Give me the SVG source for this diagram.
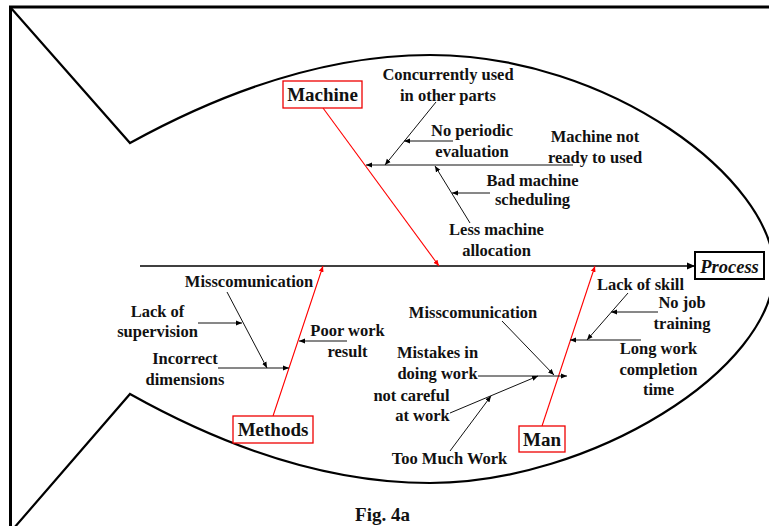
<svg xmlns="http://www.w3.org/2000/svg" width="769" height="526" viewBox="0 0 769 526">
<style>
text{font-family:"Liberation Serif","Times New Roman",serif;font-weight:bold;fill:#111;}
.lbl{font-size:16.5px;text-anchor:middle;}
.cat{font-size:19px;text-anchor:middle;}
.box{fill:#fff;stroke:#e00;stroke-width:1.3;}
.red{stroke:#f00;stroke-width:1.1;fill:none;}
.blk{stroke:#111;stroke-width:1;fill:none;}
</style>
<defs>
<marker id="ah" markerUnits="userSpaceOnUse" markerWidth="7" markerHeight="6" refX="6" refY="3" orient="auto"><path d="M0,0.5 L6,3 L0,5.5 z" fill="#000"/></marker>
<marker id="ahr" markerUnits="userSpaceOnUse" markerWidth="7" markerHeight="6" refX="6" refY="3" orient="auto"><path d="M0,0.5 L6,3 L0,5.5 z" fill="#f00"/></marker>
<marker id="ahb" markerUnits="userSpaceOnUse" markerWidth="9" markerHeight="8" refX="8" refY="4" orient="auto"><path d="M0,0.5 L8,4 L0,7.5 z" fill="#000"/></marker>
</defs>
<rect width="769" height="526" fill="#fff"/>
<path d="M10.5,526 V7 H769" fill="none" stroke="#000" stroke-width="3"/>
<g id="fish" fill="none" stroke="#000" stroke-width="2.2" stroke-linejoin="miter">
<path d="M11,8 L130,143 C230,88 330,55 430,55 C610,55 774,180 774,270 C774,370 590,483 430,483 C330,483 230,450 130,394 L14,528"/>
</g>
<g id="connectors">
<line x1="140" y1="266" x2="695" y2="266" stroke="#000" stroke-width="1.6" marker-end="url(#ahb)"/>
<line class="red" x1="323" y1="108" x2="439" y2="266" marker-end="url(#ahr)"/>
<line class="red" x1="273" y1="416" x2="323" y2="266" marker-end="url(#ahr)"/>
<line class="red" x1="542" y1="426" x2="595" y2="266" marker-end="url(#ahr)"/>
<line class="blk" x1="573" y1="165" x2="366" y2="165" stroke-width="1.3" marker-end="url(#ah)"/>
<line class="blk" x1="436" y1="102" x2="385" y2="165" marker-end="url(#ah)"/>
<line class="blk" x1="453" y1="141" x2="404" y2="141" marker-end="url(#ah)"/>
<line class="blk" x1="470" y1="223" x2="435" y2="166" marker-end="url(#ah)"/>
<line class="blk" x1="490" y1="193" x2="452" y2="193" marker-end="url(#ah)"/>
<line class="blk" x1="227" y1="292" x2="267" y2="368" marker-end="url(#ah)"/>
<line class="blk" x1="198" y1="323" x2="242" y2="323" marker-end="url(#ah)"/>
<line class="blk" x1="218" y1="368" x2="289" y2="368" marker-end="url(#ah)"/>
<line class="blk" x1="347" y1="341" x2="299" y2="341" marker-end="url(#ah)"/>
<line class="blk" x1="628" y1="293" x2="587" y2="340" marker-end="url(#ah)"/>
<line class="blk" x1="658" y1="312" x2="611" y2="312" marker-end="url(#ah)"/>
<line class="blk" x1="641" y1="340" x2="570" y2="340" marker-end="url(#ah)"/>
<line class="blk" x1="502" y1="321" x2="554" y2="375" marker-end="url(#ah)"/>
<line class="blk" x1="478" y1="376" x2="567" y2="376" marker-end="url(#ah)"/>
<line class="blk" x1="450" y1="413" x2="538" y2="376" marker-end="url(#ah)"/>
<line class="blk" x1="450" y1="451" x2="491" y2="396" marker-end="url(#ah)"/>
</g>
<g id="process">
<rect x="695" y="252" width="69" height="27" fill="#fff" stroke="#000" stroke-width="2"/>
<text x="729.5" y="272.5" font-size="18.5" font-style="italic" text-anchor="middle">Process</text>
</g>
<g id="machine">
<rect class="box" x="283" y="81" width="79" height="27"/>
<text class="cat" x="322.5" y="101">Machine</text>
</g>
<g id="methods">
<rect class="box" x="233" y="416" width="80" height="27"/>
<text class="cat" x="273" y="436">Methods</text>
</g>
<g id="man">
<rect class="box" x="519" y="426" width="46" height="26"/>
<text class="cat" x="542" y="445.5">Man</text>
</g>
<g id="machine-causes">
<text class="lbl" x="448" y="79.5">Concurrently used</text>
<text class="lbl" x="448" y="100.5">in other parts</text>
<text class="lbl" x="472" y="136">No periodic</text>
<text class="lbl" x="472" y="156.5">evaluation</text>
<text class="lbl" x="595" y="142">Machine not</text>
<text class="lbl" x="595" y="162.5">ready to used</text>
<text class="lbl" x="532.5" y="186">Bad machine</text>
<text class="lbl" x="532.5" y="205">scheduling</text>
<text class="lbl" x="496.5" y="235">Less machine</text>
<text class="lbl" x="496.5" y="256">allocation</text>
</g>
<g id="methods-causes">
<text class="lbl" x="249" y="286.5">Misscomunication</text>
<text class="lbl" x="157.5" y="316.5">Lack of</text>
<text class="lbl" x="157.5" y="337">supervision</text>
<text class="lbl" x="185" y="364">Incorrect</text>
<text class="lbl" x="185" y="385">dimensions</text>
<text class="lbl" x="347.5" y="336">Poor work</text>
<text class="lbl" x="347.5" y="357">result</text>
</g>
<g id="man-causes">
<text class="lbl" x="640.5" y="290">Lack of skill</text>
<text class="lbl" x="682" y="308">No job</text>
<text class="lbl" x="682" y="328.5">training</text>
<text class="lbl" x="658.5" y="354">Long work</text>
<text class="lbl" x="658.5" y="375">completion</text>
<text class="lbl" x="658.5" y="395">time</text>
<text class="lbl" x="473" y="318">Misscomunication</text>
<text class="lbl" x="437.5" y="358">Mistakes in</text>
<text class="lbl" x="437.5" y="378.5">doing work</text>
<text class="lbl" x="411.5" y="400.5">not careful</text>
<text class="lbl" x="422.5" y="420.5">at work</text>
<text class="lbl" x="449.5" y="464">Too Much Work</text>
</g>
<text x="382.5" y="520.5" font-size="19" text-anchor="middle">Fig. 4a</text>
</svg>
